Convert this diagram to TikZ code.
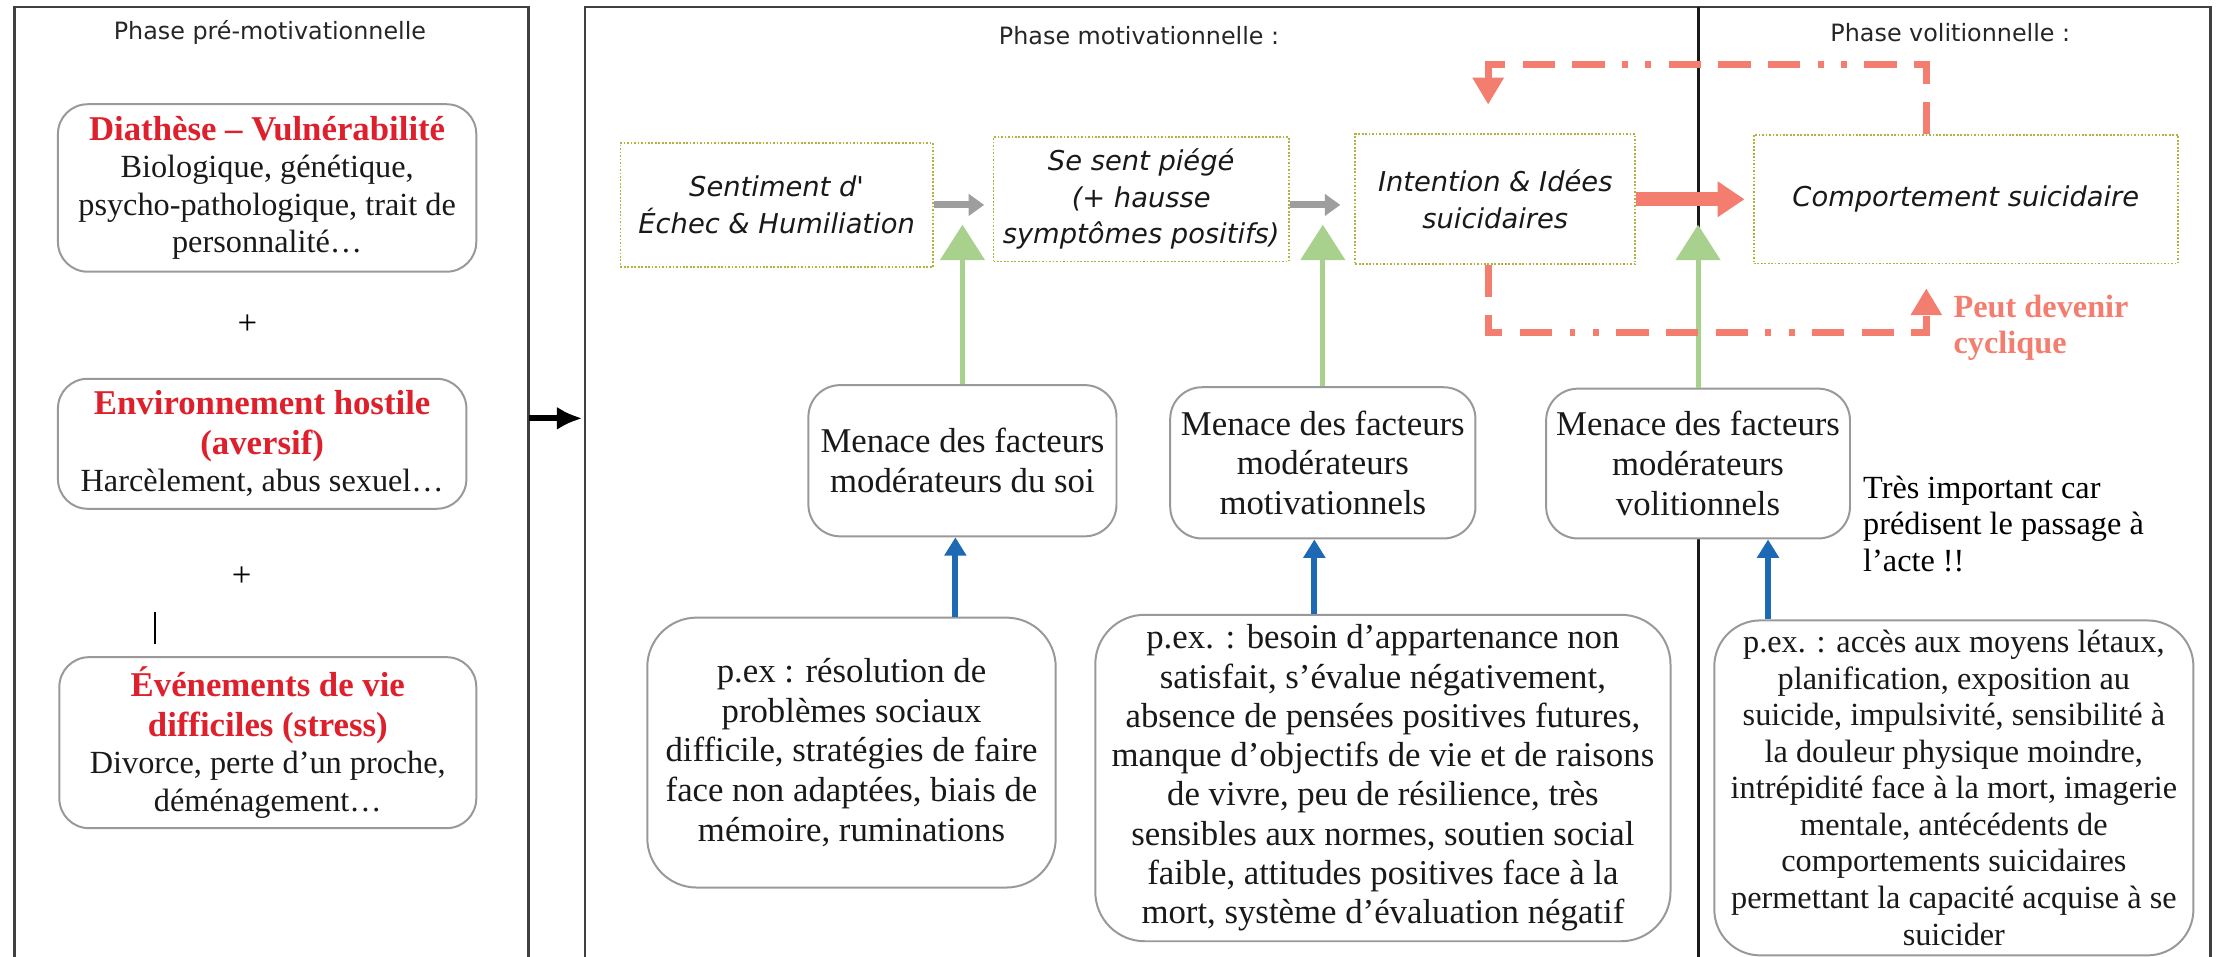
\documentclass[tikz,border=0pt]{standalone}
\usepackage{fontspec}
\setmainfont{Liberation Serif}
\newfontfamily\phasefont{DejaVu Sans}
\usepackage{xcolor}
\usepackage{tikz}
\usetikzlibrary{arrows.meta}
\definecolor{titlered}{RGB}{222,32,44}
\definecolor{salmon}{RGB}{243,125,110}
\definecolor{leafgreen}{RGB}{169,209,142}
\definecolor{linkblue}{RGB}{30,105,180}
\definecolor{olivedot}{RGB}{178,178,60}
\newcommand\redhead[1]{{\color{titlered}\bfseries\fontsize{14}{16}\selectfont #1}}

\tikzset{
  panel/.style={draw=black!75, line width=1.1pt},
  divider/.style={draw=black!90, line width=1.3pt},
  phase/.style={font=\phasefont\fontsize{9.6}{11}\selectfont, text=black!85},
  rbox/.style={draw=black!40, line width=0.8pt, fill=white, rounded corners=0.42cm,
    align=center, inner sep=0pt, text=black!90},
  stepbox/.style={draw=olivedot, line width=0.7pt, dash pattern=on 0.7pt off 0.7pt,
    fill=white, align=center, inner sep=0pt, text=black!90,
    font=\phasefont\itshape\fontsize{11}{14.7}\selectfont},
  grayarr/.style={draw=black!38, line width=2.8pt, -{Triangle[length=0.22cm,width=0.3cm]}},
  bigarr/.style={draw=salmon, line width=5.7pt, -{Triangle[length=0.38cm,width=0.48cm]}},
  greenup/.style={draw=leafgreen, line width=2pt, -{Triangle[length=0.5cm,width=0.62cm]}},
  blueup/.style={draw=linkblue, line width=2.5pt, -{Triangle[length=0.26cm,width=0.3cm]}},
  cycle/.style={draw=salmon, line width=2.8pt,
    dash pattern=on 13pt off 7pt on 13pt off 7pt on 13pt off 7pt on 2.4pt off 7pt on 2.4pt off 7pt,
    -{Triangle[length=0.38cm,width=0.42cm]}},
  passarr/.style={draw=black, line width=2.3pt, -{Latex[length=0.36cm,width=0.33cm]}}
}

\begin{document}
\begin{tikzpicture}
            %%% FRAME %%%
            \useasboundingbox (0,0) rectangle (31.36,-13.54);
            \draw[panel] (0.21,-13.54) -- (0.21,-0.10) -- (7.48,-0.10) -- (7.48,-13.54);
            \draw[panel] (8.28,-13.54) -- (8.28,-0.10) -- (31.28,-0.10) -- (31.28,-13.54);
            \draw[divider] (24.04,-0.10) -- (24.04,-13.54);

            %%% TITLES %%%
            \node[phase] (tpre) at (3.82,-0.46) {Phase pré-motivationnelle};
            \node[phase] (tmot) at (16.12,-0.50) {Phase motivationnelle :};
            \node[phase] (tvol) at (27.60,-0.46) {Phase volitionnelle :};

            %%% PRE-MOTIVATIONAL %%%
            \node[rbox, minimum width=5.92cm, minimum height=2.37cm, font=\fontsize{13}{15}\selectfont] (diath) at (3.78,-2.66)
                {\redhead{Diathèse – Vulnérabilité}\\Biologique, génétique,\\psycho-pathologique, trait de\\personnalité…};
            \node[font=\fontsize{14}{16}\selectfont] (plus1) at (3.50,-4.60) {+};
            \node[rbox, minimum width=5.78cm, minimum height=1.84cm, font=\fontsize{13}{15}\selectfont] (envir) at (3.71,-6.28)
                {\redhead{Environnement hostile}\\[1pt]\redhead{(aversif)}\\Harcèlement, abus sexuel…};
            \node[font=\fontsize{14}{16}\selectfont] (plus2) at (3.42,-8.16) {+};
            \draw[line width=0.8pt] (2.20,-8.66) -- (2.20,-9.12);
            \node[rbox, minimum width=5.90cm, minimum height=2.42cm, font=\fontsize{13}{15}\selectfont] (evene) at (3.79,-10.51)
                {\redhead{Événements de vie}\\[1pt]\redhead{difficiles (stress)}\\Divorce, perte d’un proche,\\déménagement…};

            %%% CHAIN %%%
            \node[stepbox, minimum width=4.42cm, minimum height=1.76cm] (echec) at (10.99,-2.90) {Sentiment d'\\Échec \& Humiliation};
            \node[stepbox, minimum width=4.18cm, minimum height=1.76cm] (piege) at (16.15,-2.82) {Se sent piégé\\(+ hausse\\symptômes positifs)};
            \node[stepbox, minimum width=3.96cm, minimum height=1.84cm] (idees) at (21.16,-2.82) {Intention \& Idées\\suicidaires};
            \node[stepbox, minimum width=6.00cm, minimum height=1.82cm] (compo) at (27.82,-2.82) {Comportement suicidaire};

            %%% MODERATORS %%%
            \node[rbox, rounded corners=0.45cm, minimum width=4.36cm, minimum height=2.14cm, font=\fontsize{14}{16}\selectfont] (msoi) at (13.62,-6.52)
                {Menace des facteurs\\modérateurs du soi};
            \node[rbox, rounded corners=0.45cm, minimum width=4.32cm, minimum height=2.14cm, font=\fontsize{14}{16}\selectfont] (mmot) at (18.72,-6.55)
                {Menace des facteurs\\modérateurs\\motivationnels};
            \node[rbox, rounded corners=0.45cm, minimum width=4.30cm, minimum height=2.12cm, font=\fontsize{14}{16}\selectfont] (mvol) at (24.03,-6.56)
                {Menace des facteurs\\modérateurs\\volitionnels};

            %%% EXAMPLES %%%
            \node[rbox, rounded corners=0.7cm, minimum width=5.78cm, minimum height=3.82cm, font=\fontsize{14}{16}\selectfont] (exsoi) at (12.05,-10.65)
                {p.ex : résolution de\\problèmes sociaux\\difficile, stratégies de faire\\face non adaptées, biais de\\mémoire, ruminations};
            \node[rbox, rounded corners=0.7cm, minimum width=8.14cm, minimum height=4.62cm, font=\fontsize{14}{15.8}\selectfont] (exmot) at (19.57,-11.01)
                {p.ex. : besoin d’appartenance non\\satisfait, s’évalue négativement,\\absence de pensées positives futures,\\manque d’objectifs de vie et de raisons\\de vivre, peu de résilience, très\\sensibles aux normes, soutien social\\faible, attitudes positives face à la\\mort, système d’évaluation négatif};
            \node[rbox, rounded corners=0.65cm, minimum width=6.78cm, minimum height=4.74cm, font=\fontsize{13}{14.7}\selectfont] (exvol) at (27.65,-11.15)
                {p.ex. : accès aux moyens létaux,\\planification, exposition au\\suicide, impulsivité, sensibilité à\\la douleur physique moindre,\\intrépidité face à la mort, imagerie\\mentale, antécédents de\\comportements suicidaires\\permettant la capacité acquise à se\\suicider};

            %%% NOTES %%%
            \node[anchor=west, align=left, inner sep=0pt, font=\fontsize{13}{14.7}\selectfont] (note) at (26.36,-7.41)
                {Très important car\\prédisent le passage à\\l’acte !!};
            \node[anchor=west, align=left, inner sep=0pt, text=salmon, font=\bfseries\fontsize{13}{14.7}\selectfont] (cyc) at (27.64,-4.64)
                {Peut devenir\\cyclique};

            %%% COORDINATES %%%
            \coordinate (preout) at (7.48,-5.92);
            \coordinate (motin) at (8.24,-5.92);
            \coordinate (gtip) at (0,-3.18);
            \coordinate (b1) at (13.52,0);
            \coordinate (b2) at (18.60,0);
            \coordinate (b3) at (25.02,0);
            \coordinate (loopR) at (27.26,-0.91);
            \coordinate (loopL) at (21.06,-0.91);
            \coordinate (loopend) at (21.06,-1.48);
            \coordinate (cycL) at (21.06,-4.71);
            \coordinate (cycR) at (27.26,-4.71);
            \coordinate (cycend) at (27.26,-4.08);

            %%% ARROWS %%%
            \draw[passarr] (preout) -- (motin);
            \draw[grayarr, shorten >=0.12cm] (echec.east) -- (echec.east -| piege.west);
            \draw[grayarr, shorten >=0.2cm] (echec.east -| piege.east) -- (echec.east -| idees.west);
            \draw[bigarr, shorten >=0.12cm] (idees.east) -- (compo.west);
            \draw[greenup] (msoi.north) -- (msoi.north |- gtip);
            \draw[greenup] (mmot.north) -- (mmot.north |- gtip);
            \draw[greenup] (mvol.north) -- (mvol.north |- gtip);
            \draw[blueup] (exsoi.north -| b1) -- (msoi.south -| b1);
            \draw[blueup] (exmot.north -| b2) -- (mmot.south -| b2);
            \draw[blueup] (exvol.north -| b3) -- (mvol.south -| b3);

            %%% LOOP %%%
            \draw[cycle] (compo.north -| loopR) -- (loopR) -- (loopL) -- (loopend);
            \draw[cycle] (idees.south -| cycL) -- (cycL) -- (cycR) -- (cycend);
\end{tikzpicture}
\end{document}
